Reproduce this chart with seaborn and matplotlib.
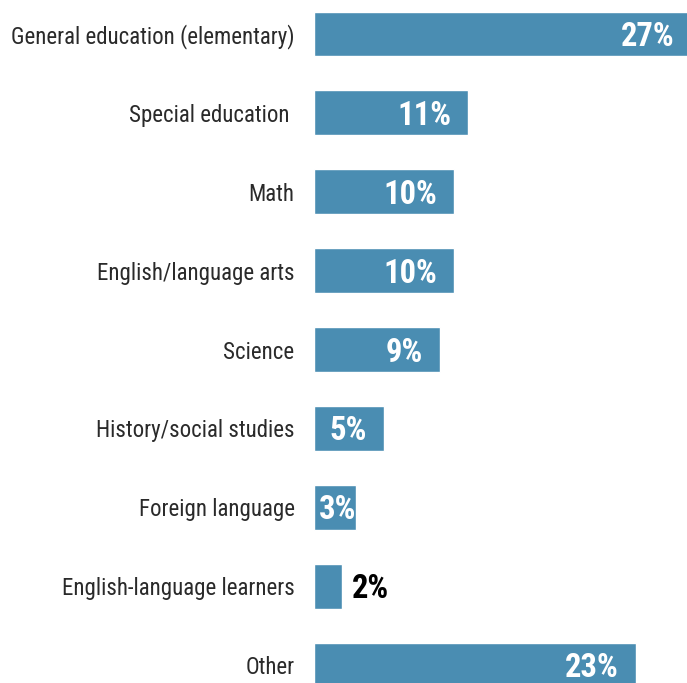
import matplotlib
matplotlib.use("Agg")
import matplotlib.pyplot as plt
from matplotlib import font_manager
import seaborn as sns
import pandas as pd

subjects = [
    "General education (elementary)",
    "Special education ",
    "Math",
    "English/language arts",
    "Science",
    "History/social studies",
    "Foreign language",
    "English-language learners",
    "Other",
]
shares = [27, 11, 10, 10, 9, 5, 3, 2, 23]

BAR_COLOR = "#4a8db2"

sns.set_theme(style="white")
available = {f.name for f in font_manager.fontManager.ttflist}
family = "Roboto Condensed" if "Roboto Condensed" in available else "Roboto"
plt.rcParams["font.family"] = [family, "DejaVu Sans"]

df = pd.DataFrame({"subject": subjects, "share": shares})

W, H = 687, 683
fig = plt.figure(figsize=(W / 100, H / 100), dpi=100)
ax = fig.add_axes([314 / W, 0, (W - 314) / W, 1])

sns.barplot(data=df, x="share", y="subject", orient="h", color=BAR_COLOR,
            saturation=1, width=0.57, ax=ax)

# 14 px per percentage point, first bar centred 34 px from the top, 78.9 px apart
px_per_unit = 14.0
step = 78.9
ax.set_xlim(0, (W - 314) / px_per_unit)
ax.set_ylim((H - 34) / step, -34 / step)

LABEL_SIZE = 23.5
for i, v in enumerate(shares):
    label = f"{v}%"
    if v >= 5:
        dx, ha, col = -17, "right", "white"
    elif v >= 3:
        dx, ha, col = 0, "right", "white"
    else:
        dx, ha, col = 10, "left", "black"
    ax.annotate(label, xy=(v, i), xytext=(dx, -3), textcoords="offset pixels",
                ha=ha, va="center", color=col, fontsize=LABEL_SIZE,
                fontweight="bold", annotation_clip=False)

ax.set_xlabel("")
ax.set_ylabel("")
ax.set_xticks([])
ax.tick_params(axis="y", length=0, pad=14, labelsize=16.5, labelcolor="#2a2a2a")
for s in ax.spines.values():
    s.set_visible(False)

fig.savefig("out.png", dpi=100)
